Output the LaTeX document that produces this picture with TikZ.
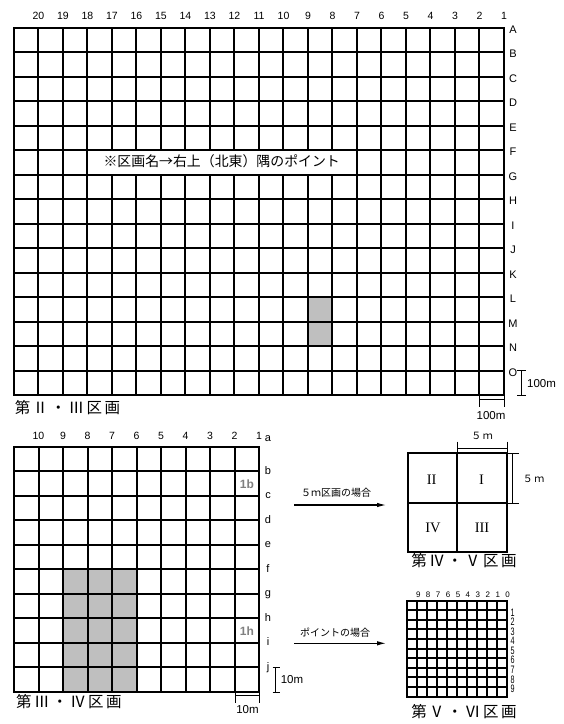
\documentclass[tikz,border=0pt]{standalone}
\usepackage{fontspec}
\setmainfont{Liberation Sans}
\newfontfamily\jp{Noto Sans CJK JP}
\newfontfamily\serifrn{Liberation Serif}
\usetikzlibrary{arrows.meta}
\newcommand\tsp{\kern2.5pt}
\newcommand\fs[1]{\fontsize{#1}{#1}\selectfont}
\begin{document}
\begin{tikzpicture}[x=1pt,y=-1pt,
  gridline/.style={line width=1.8pt,line cap=rect},
  fineline/.style={line width=1pt},
  smallgrid/.style={line width=1.5pt,line cap=rect},
  shadecell/.style={fill=black!25},
  numlab/.style={font=\fs{10.5},inner sep=0,anchor=base},
  rowlab/.style={font=\fs{11},inner sep=0,anchor=base},
  scalelab/.style={font=\fs{11.5},inner sep=0},
  titlelab/.style={font=\jp\fs{15.5},inner sep=0},
  jpsmall/.style={font=\jp\fs{10},inner sep=0},
  romlab/.style={font=\serifrn\fs{14.5},inner sep=0},
  cellid/.style={font=\bfseries\fs{12},text=black!50,inner sep=0,anchor=base},
  tinylab/.style={font=\fs{8},inner sep=0},
  arr/.style={line width=1.1pt,-{Latex[length=9pt,width=4.5pt]}}]
\useasboundingbox (0,0) rectangle (564,724);

% ===== Top grid (20 x 15) =====
\fill[shadecell] (308,297) rectangle (332,346);
\foreach \i in {0,...,20}{
  \pgfmathsetmacro\xx{round(13.5+24.5*\i)}
  \draw[gridline] (\xx,28) -- (\xx,395);}
\foreach \j in {0,...,15}{
  \pgfmathsetmacro\yy{round(28+24.47*\j)}
  \draw[gridline] (14,\yy) -- (504,\yy);}
\foreach \k in {1,...,20} \node[numlab] (tc\k) at (504-24.5*\k+24.5,19) {\k};
\foreach \l [count=\j from 0] in {A,B,C,D,E,F,G,H,I,J,K,L,M,N,O}
  \node[rowlab] (tr\l) at (513,33.5+24.47*\j) {\l};
\fill[white] (100,151.1) rectangle (346,173.9);
\node[font=\jp\fs{13.9},inner sep=0] (note) at (221.7,161.7) {※区画名→右上（北東）隅のポイント};

% top scale bars
\coordinate (sv1t) at (521.5,370);
\coordinate (sv1b) at (521.5,395);
\draw[fineline] ([xshift=-4.5pt]sv1t) -- ([xshift=4.5pt]sv1t);
\draw[fineline] ([xshift=-4.5pt]sv1b) -- ([xshift=4.5pt]sv1b);
\draw[fineline] (sv1t) -- (sv1b);
\node[scalelab] (s100v) at (541.5,383.5) {100m};
\coordinate (sh1l) at (479,399.5);
\coordinate (sh1r) at (504,399.5);
\draw[fineline] (479,395) -- (479,407);
\draw[fineline] (504,395) -- (504,407);
\draw[fineline] (sh1l) -- (sh1r);
\node[scalelab] (s100h) at (491,416) {100m};
\node[titlelab] (title1) at (67.5,407.5) {第\tsp Ⅱ\tsp ・\tsp Ⅲ\tsp 区\tsp 画};

% ===== Bottom-left grid (10 x 10) =====
\fill[shadecell] (63,569) rectangle (137,692);
\foreach \i in {0,...,10}{
  \pgfmathsetmacro\xx{round(14+24.5*\i)}
  \draw[gridline] (\xx,447) -- (\xx,692);}
\foreach \j in {0,...,10}{
  \pgfmathsetmacro\yy{round(447+24.47*\j)}
  \draw[gridline] (14,\yy) -- (259,\yy);}
\foreach \k in {1,...,10} \node[numlab] (bc\k) at (259-24.5*\k+24.5,439) {\k};
\node[rowlab] (bra) at (268,441) {a};
\foreach \l [count=\j from 1] in {b,c,d,e,f,g,h,i,j}
  \node[rowlab] (br\l) at (268,450+24.47*\j) {\l};
\node[cellid] (c1b) at (247,488) {1b};
\node[cellid] (c1h) at (247,635) {1h};

% bottom scale bars
\coordinate (sv2t) at (275.5,667);
\coordinate (sv2b) at (275.5,692);
\draw[fineline] ([xshift=-3pt]sv2t) -- ([xshift=4.5pt]sv2t);
\draw[fineline] ([xshift=-3pt]sv2b) -- ([xshift=4.5pt]sv2b);
\draw[fineline] (sv2t) -- (sv2b);
\node[scalelab] (s10v) at (292,680) {10m};
\coordinate (sh2l) at (235,695.5);
\coordinate (sh2r) at (259,695.5);
\draw[fineline] (235,692) -- (235,703);
\draw[fineline] (259,692) -- (259,703);
\draw[fineline] (sh2l) -- (sh2r);
\node[scalelab] (s10h) at (247.5,710) {10m};
\node[titlelab] (title2) at (69,702) {第\tsp Ⅲ\tsp ・\tsp Ⅳ\tsp 区\tsp 画};

% ===== 5 m quadrants =====
\node[jpsmall] (lab5m) at (336,493) {５ｍ区画の場合};
\coordinate (a1s) at (294,505);
\coordinate (a1e) at (386,505);
\draw[arr] (a1s) -- (a1e);
\draw[gridline] (408,453) rectangle (507,552);
\draw[gridline] (457,453) -- (457,552);
\draw[gridline] (408,503) -- (507,503);
\node[romlab] (q2) at (431.7,480) {II};
\node[romlab] (q1) at (481.5,480) {I};
\node[romlab] (q4) at (433,528) {IV};
\node[romlab] (q3) at (482,528) {III};
% 5 m dims
\draw[fineline] (457,441.5) -- (457,453);
\draw[fineline] (507,441.5) -- (507,453);
\draw[fineline] (457,448) -- (507,448);
\node[jpsmall] (d5top) at (482,435.5) {５\kern1.5ptｍ};
\draw[fineline] (507,453) -- (518.5,453);
\draw[fineline] (507,503) -- (518.5,503);
\draw[fineline] (512.5,453) -- (512.5,503);
\node[jpsmall] (d5right) at (533.5,478.5) {５\kern1.5ptｍ};
\node[titlelab] (title3) at (464,560.5) {第\tsp Ⅳ\tsp ・\tsp Ⅴ\tsp 区\tsp 画};

% ===== point grid =====
\node[jpsmall] (labpt) at (335,632.5) {ポイントの場合};
\coordinate (a2s) at (294,643.3);
\coordinate (a2e) at (386,643.3);
\draw[arr] (a2s) -- (a2e);
\foreach \i in {0,...,10}{
  \pgfmathsetmacro\xx{round(407.3+9.94*\i)}
  \draw[smallgrid] (\xx,601) -- (\xx,697);}
\foreach \j in {0,...,10}{
  \pgfmathsetmacro\yy{round(600.7+9.58*\j)}
  \draw[smallgrid] (407,\yy) -- (507,\yy);}
\foreach \k in {1,...,10} {
  \pgfmathtruncatemacro\lab{10-\k}
  \node[tinylab,anchor=base] (pc\k) at (407.3+9.94*\k+1,597.5) {\lab};
}
\foreach \k in {1,...,9}
  \node[tinylab] (pr\k) at (512.5,600.7+9.58*\k+2) {\scalebox{0.9}[1.35]{\k}};
\node[titlelab] (title4) at (464,711.5) {第\tsp Ⅴ\tsp ・\tsp Ⅵ\tsp 区\tsp 画};
\end{tikzpicture}
\end{document}
